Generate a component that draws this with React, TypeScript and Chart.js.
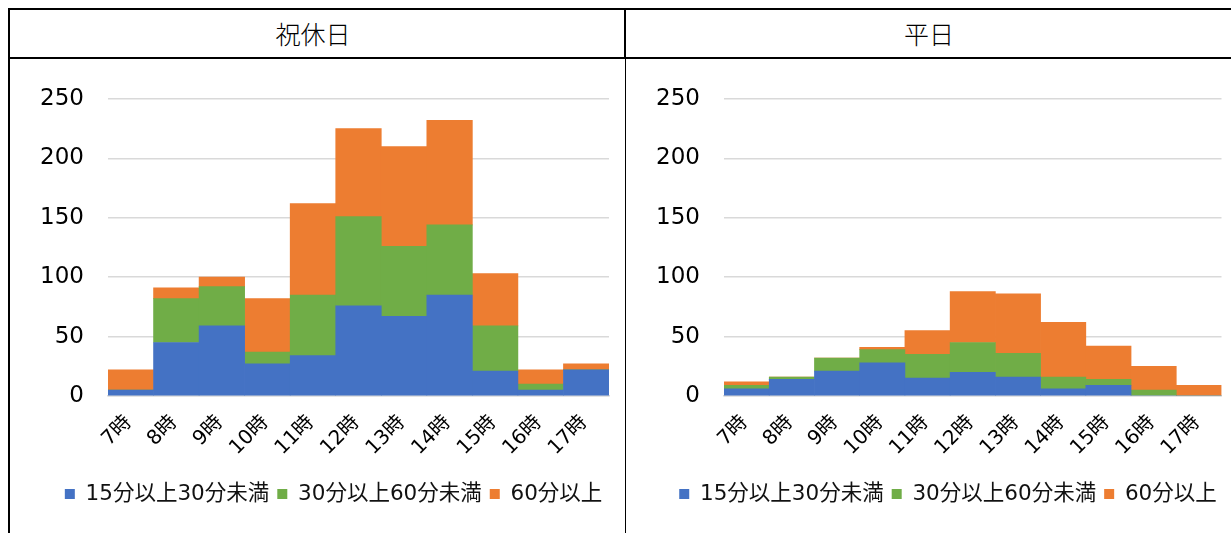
import React, { useEffect, useRef } from 'react';
import { Chart, registerables } from 'chart.js';

Chart.register(...registerables);

// ---- data ----
const hours = ['7時', '8時', '9時', '10時', '11時', '12時', '13時', '14時', '15時', '16時', '17時'];
const seriesNames = ['15分以上30分未満', '30分以上60分未満', '60分以上'];
const yTicks = [0, 50, 100, 150, 200, 250];

const holiday15to30 = [5, 45, 59, 27, 34, 76, 67, 85, 21, 5, 22];
const holiday30to60 = [0, 37, 33, 10, 51, 75, 59, 59, 38, 5, 0];
const holiday60plus = [17, 9, 8, 45, 77, 74, 84, 88, 44, 12, 5];

const weekday15to30 = [6, 14, 21, 28, 15, 20, 16, 6, 9, 0, 0];
const weekday30to60 = [3, 2, 11, 11, 20, 25, 20, 10, 5, 5, 0];
const weekday60plus = [3, 0, 0, 2, 20, 43, 50, 46, 28, 20, 9];

const panelTitles = ['祝休日', '平日'];

const COLORS = ['#4472C4', '#70AD47', '#ED7D31'];
const FONT = '"DejaVu Sans", "Noto Sans CJK JP", sans-serif';

type PanelProps = {
  left: number;
  top: number;
  width: number;
  height: number;
  padLeft: number;
  padRight: number;
  yWidth: number;
  legendCenter: number;
  series: number[][];
};

function Panel({ left, top, width, height, padLeft, padRight, yWidth, legendCenter, series }: PanelProps) {
  const ref = useRef<HTMLCanvasElement>(null);
  useEffect(() => {
    if (!ref.current) return;
    const shiftLegend = {
      id: 'shiftLegend',
      afterLayout(chart: any) {
        const lg = chart.legend;
        if (!lg) return;
        const dx = legendCenter - (lg.left + lg.right) / 2;
        lg.left += dx;
        lg.right += dx;
      },
    };
    const chart = new Chart(ref.current, {
      type: 'bar',
      data: {
        labels: hours,
        datasets: series.map((d, i) => ({
          label: seriesNames[i],
          data: d,
          backgroundColor: COLORS[i],
          borderWidth: 0,
          barPercentage: 1,
          categoryPercentage: 1,
        })),
      },
      plugins: [shiftLegend],
      options: {
        animation: false,
        responsive: false,
        maintainAspectRatio: false,
        layout: { padding: { left: padLeft, right: padRight, top: 40, bottom: 18.25 } },
        plugins: {
          tooltip: { enabled: false },
          legend: {
            position: 'bottom',
            labels: {
              boxWidth: 10,
              boxHeight: 10,
              padding: 8,
              color: '#111',
              font: { family: FONT, size: 21.5 },
            },
          },
        },
        scales: {
          x: {
            stacked: true,
            grid: { display: false, drawTicks: false },
            border: { display: true, color: '#d9d9d9', width: 1.5 },
            ticks: {
              minRotation: 45,
              maxRotation: 45,
              autoSkip: false,
              padding: 15,
              labelOffset: -2,
              color: '#000',
              font: { family: FONT, size: 20 },
            },
            afterFit: (s: any) => {
              s.height = 79.25;
            },
          },
          y: {
            stacked: true,
            min: yTicks[0],
            max: yTicks[yTicks.length - 1],
            afterBuildTicks: (s: any) => {
              s.ticks = yTicks.map((v) => ({ value: v }));
            },
            ticks: {
              padding: 24,
              color: '#000',
              font: { family: FONT, size: 23 },
            },
            grid: { color: '#d9d9d9', lineWidth: 1.5, drawTicks: false },
            border: { display: false },
            afterFit: (s: any) => {
              s.width = yWidth;
            },
          },
        },
      },
    });
    return () => chart.destroy();
  }, []);
  return (
    <canvas
      ref={ref}
      width={width}
      height={height}
      style={{ position: 'absolute', left, top, width, height }}
    />
  );
}

const line = (left: number, top: number, width: number, height: number) => (
  <div style={{ position: 'absolute', left, top, width, height, background: '#000' }} />
);

const titleStyle = (cx: number): React.CSSProperties => ({
  position: 'absolute',
  left: cx - 150,
  width: 300,
  top: 10,
  height: 47,
  lineHeight: '47px',
  textAlign: 'center',
  fontFamily: '"Noto Sans CJK JP", sans-serif',
  fontWeight: 300,
  fontSize: 25,
  color: '#000',
});

export default function App() {
  return (
    <div
      style={{
        position: 'absolute',
        left: 0,
        top: 0,
        width: 1231,
        height: 533,
        overflow: 'hidden',
        background: '#fff',
      }}
    >
      {line(8, 8, 1223, 2)}
      {line(8, 57, 1223, 2)}
      {line(8, 8, 2, 525)}
      {line(624, 8, 2, 51)}
      {line(624.5, 59, 1.2, 474)}
      <div style={titleStyle(313)}>{panelTitles[0]}</div>
      <div style={titleStyle(929)}>{panelTitles[1]}</div>
      <Panel
        left={10}
        top={59}
        width={614}
        height={474}
        padLeft={4}
        padRight={15}
        yWidth={94}
        legendCenter={323.6}
        series={[holiday15to30, holiday30to60, holiday60plus]}
      />
      <Panel
        left={626}
        top={59}
        width={605}
        height={474}
        padLeft={4}
        padRight={3}
        yWidth={94}
        legendCenter={322}
        series={[weekday15to30, weekday30to60, weekday60plus]}
      />
    </div>
  );
}
